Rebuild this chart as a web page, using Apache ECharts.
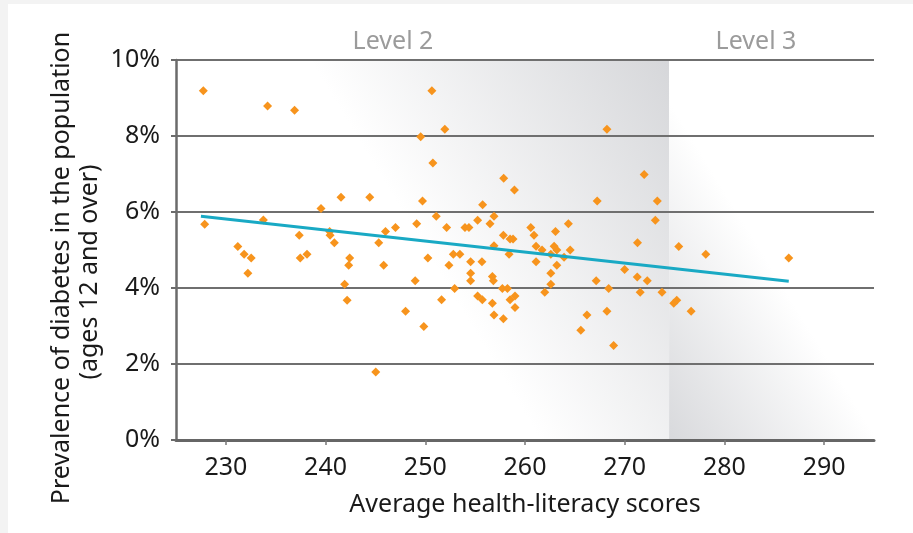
<!DOCTYPE html>
<html lang="en">
<head>
    <meta charset="UTF-8">
    <title>Diabetes vs health literacy</title>
    <style>
        body { margin: 0; background: #f3f3f3; }
        #main {
            width: 905px; height: 529px;
            margin: 4px 0 0 8px;
            background: #fff;
        }
    </style>
</head>
<body>
<div id="main"></div>
<script src="https://cdn.jsdelivr.net/npm/echarts@6/dist/echarts.min.js"></script>
<script>
    var myChart = echarts.init(document.getElementById('main'));

    // average health-literacy score of each area
    var scores = [
        227.74, 227.88, 234.18, 236.89, 233.76, 231.20, 231.83, 232.54, 232.21, 237.36,
        237.46, 238.14, 239.54, 240.41, 240.45, 240.88, 241.55, 242.42, 242.32, 241.91,
        242.16, 244.43, 245.33, 245.03, 245.83, 246.01, 247.01, 248.02, 248.99, 249.14,
        249.54, 249.72, 249.85, 250.26, 250.66, 250.76, 251.10, 251.96, 251.63, 252.14,
        252.37, 252.81, 252.94, 253.47, 253.98, 254.38, 254.55, 254.55, 254.55, 255.25,
        255.25, 255.72, 255.68, 255.75, 256.49, 256.73, 256.83, 256.73, 256.89, 256.89,
        256.89, 257.83, 257.86, 257.83, 257.73, 258.24, 258.40, 258.50, 258.80, 258.50,
        259.00, 259.00, 258.94, 260.58, 260.90, 261.11, 261.11, 261.71, 261.98, 262.59,
        262.59, 262.59, 262.92, 263.19, 263.06, 263.19, 263.92, 264.35, 264.53, 265.60,
        266.21, 267.14, 267.24, 268.22, 268.22, 268.39, 268.89, 269.99, 271.28, 271.26,
        271.55, 271.95, 272.26, 273.07, 273.27, 273.74, 274.92, 275.22, 275.42, 276.66,
        278.13, 286.45
    ];
    // prevalence of diabetes (%), same order
    var prevalence = [
        9.19, 5.68, 8.79, 8.68, 5.79, 5.09, 4.89, 4.79, 4.39, 5.39,
        4.79, 4.89, 6.09, 5.49, 5.39, 5.19, 6.39, 4.79, 4.60, 4.10,
        3.68, 6.39, 5.19, 1.79, 4.60, 5.49, 5.59, 3.39, 4.19, 5.69,
        7.98, 6.29, 2.99, 4.79, 9.19, 7.29, 5.89, 8.18, 3.69, 5.59,
        4.60, 4.89, 3.99, 4.89, 5.59, 5.59, 4.69, 4.39, 4.19, 5.78,
        3.79, 3.69, 4.69, 6.19, 5.69, 4.30, 4.19, 3.60, 3.29, 5.89,
        5.11, 5.39, 6.89, 3.19, 3.99, 3.99, 4.89, 5.29, 5.29, 3.69,
        3.79, 3.49, 6.58, 5.59, 5.39, 5.10, 4.69, 5.00, 3.89, 4.89,
        4.39, 4.10, 5.10, 5.00, 5.49, 4.60, 4.81, 5.69, 5.00, 2.89,
        3.29, 4.19, 6.29, 8.18, 3.39, 3.99, 2.49, 4.49, 5.19, 4.29,
        3.89, 6.99, 4.19, 5.78, 6.29, 3.89, 3.60, 3.68, 5.09, 3.39,
        4.89, 4.79
    ];

    // trend line end points
    var trendX = [227.5, 286.45];
    var trendY = [5.89, 4.18];

    var xTicks = [230, 240, 250, 260, 270, 280, 290];
    var yTicks = [0, 2, 4, 6, 8, 10];
    var levelNames = ['Level 2', 'Level 3'];
    var levelBreak = 274.45; // where level 2 stops and level 3 starts

    var FONT = '"Noto Sans", sans-serif';

    var points = scores.map(function (s, i) { return [s, prevalence[i]]; });
    var trend = trendX.map(function (x, i) { return [x, trendY[i]]; });

    myChart.setOption({
        animation: false,
        grid: { left: 168, right: 39, top: 56, bottom: 93 },
        xAxis: {
            type: 'value',
            min: 225,
            max: 295,
            name: 'Average health-literacy scores',
            nameLocation: 'middle',
            nameGap: 52,
            nameTextStyle: { fontFamily: FONT, fontSize: 25, color: '#1a1a1a' },
            z: 1,
            axisLine: { show: true, lineStyle: { color: '#666', width: 3 } },
            axisTick: { show: true, length: 5, customValues: xTicks, lineStyle: { color: '#777', width: 1.5 } },
            axisLabel: {
                customValues: xTicks,
                margin: 15,
                fontFamily: FONT, fontSize: 25, color: '#1a1a1a'
            },
            splitLine: { show: false }
        },
        yAxis: {
            type: 'value',
            min: yTicks[0],
            max: yTicks[yTicks.length - 1],
            interval: 2,
            z: 1,
            axisLine: { show: true, lineStyle: { color: '#6b6b6b', width: 2.5 } },
            axisTick: { show: true, length: 5, lineStyle: { color: '#6b6b6b', width: 2 } },
            axisLabel: {
                formatter: '{value}%',
                margin: 16,
                fontFamily: FONT, fontSize: 25, color: '#1a1a1a'
            },
            splitLine: { show: true, lineStyle: { color: '#6f6f6f', width: 2 } }
        },
        graphic: [
            { type: 'text', x: 385, y: 38, style: { text: levelNames[0], fill: '#9b9b9b', font: '25px ' + FONT, align: 'center', verticalAlign: 'middle' } },
            { type: 'text', x: 748, y: 38, style: { text: levelNames[1], fill: '#9b9b9b', font: '25px ' + FONT, align: 'center', verticalAlign: 'middle' } },
            { type: 'text', x: 54, y: 264, rotation: Math.PI / 2, style: { text: 'Prevalence of diabetes in the population', fill: '#1a1a1a', font: '25px ' + FONT, align: 'center', verticalAlign: 'middle' } },
            { type: 'text', x: 82, y: 268, rotation: Math.PI / 2, style: { text: '(ages 12 and over)', fill: '#1a1a1a', font: '25px ' + FONT, align: 'center', verticalAlign: 'middle' } }
        ],
        series: [
            {
                // shaded backgrounds of the two literacy levels
                type: 'scatter',
                data: [],
                z: 0,
                silent: true,
                markArea: {
                    silent: true,
                    z: 0,
                    data: [
                        [{
                            xAxis: 225,
                            itemStyle: {
                                color: {
                                    type: 'linear', x: 0.272, y: 0, x2: 0.803, y2: -0.418,
                                    colorStops: [
                                        { offset: 0, color: '#ffffff' },
                                        { offset: 1, color: '#d6d7da' }
                                    ]
                                }
                            }
                        }, { xAxis: levelBreak }],
                        [{
                            xAxis: levelBreak,
                            itemStyle: {
                                color: {
                                    type: 'linear', x: 0, y: 1, x2: 0.738, y2: 0.755,
                                    colorStops: [
                                        { offset: 0, color: '#d8d9dc' },
                                        { offset: 1, color: '#ffffff' }
                                    ]
                                }
                            }
                        }, { xAxis: 295 }]
                    ]
                }
            },
            {
                type: 'scatter',
                data: points,
                symbol: 'diamond',
                symbolSize: 9,
                z: 3,
                itemStyle: { color: '#f7941d', opacity: 1 }
            },
            {
                type: 'line',
                data: trend,
                showSymbol: false,
                z: 4,
                lineStyle: { color: '#19a9c4', width: 3 }
            }
        ]
    });
</script>
</body>
</html>
